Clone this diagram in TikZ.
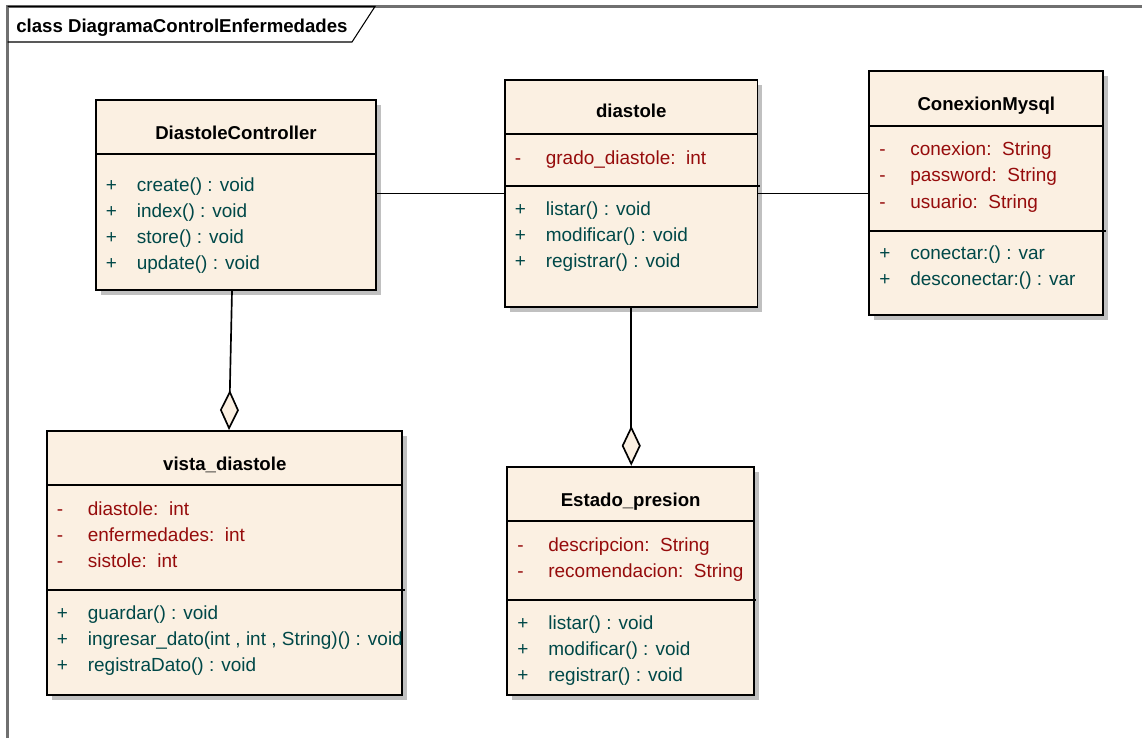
\documentclass[tikz,border=0pt]{standalone}
\usepackage{fontspec}
\setmainfont{Liberation Sans}
\usetikzlibrary{arrows.meta,shadows}
\definecolor{classfill}{RGB}{251,240,226}
\definecolor{attrred}{RGB}{150,12,12}
\definecolor{opteal}{RGB}{0,72,72}
\definecolor{shadowgray}{RGB}{192,192,192}
\definecolor{framegray}{RGB}{112,112,112}
\tikzstyle{classbox}=[draw=black,fill=classfill,line width=1.1pt,inner sep=0pt,
  drop shadow={shadow xshift=0.1cm,shadow yshift=-0.1cm,fill=shadowgray,opacity=1}]
\tikzstyle{sepline}=[black,line width=1.1pt]
\tikzstyle{classname}=[anchor=base,inner sep=0pt,font=\fontsize{10.6}{12}\selectfont\bfseries]
\tikzstyle{attrs}=[anchor=base west,inner sep=0pt,text=attrred,font=\fontsize{10.8}{14.95}\selectfont]
\tikzstyle{ops}=[anchor=base west,inner sep=0pt,text=opteal,font=\fontsize{10.8}{14.95}\selectfont]
\tikzstyle{assoc}=[black,line width=0.95pt]
\tikzstyle{aggr}=[black,line width=0.95pt,-{Diamond[fill=classfill,length=0.8cm,width=0.38cm]}]
\newcommand{\members}[1]{\begin{tabular}[t]{@{}p{0.62cm}@{}l@{}}#1\end{tabular}}

\begin{document}
\begin{tikzpicture}[x=0.02cm, y=-0.02cm]
\useasboundingbox (0,0) rectangle (1142,738);
\draw[framegray, line width=1.2pt] (7.5,738) -- (7.5,6.5) -- (1142,6.5);
\draw[black, line width=0.6pt] (7.5,6.5) -- (375,6.5) -- (352,42) -- (7.5,42);
\node[anchor=base west, inner sep=0pt, font=\fontsize{10.6}{12}\selectfont\bfseries] (frametitle) at (16,32.7) {class DiagramaControlEnfermedades};

\node[classbox, minimum width=5.6cm, minimum height=3.8cm] (ctrl) at (236,195) {};
	\draw[sepline] (96,154.3) -- (376,154.3);
	\node[classname] (ctrlname) at (236,139) {DiastoleController};
	\node[ops] (ctrlops) at (105.5,191) {\members{+ & create() : void\\ + & index() : void\\ + & store() : void\\ + & update() : void}};

\node[classbox, minimum width=5.05cm, minimum height=4.534cm] (diast) at (631.25,193.35) {};
	\draw[sepline] (505,134.3) -- (757.5,134.3);
	\draw[sepline] (505,186.3) -- (760,186.3);
	\node[classname] (diastname) at (631.25,117.7) {diastole};
	\node[attrs] (diastattrs) at (514.5,164.3) {\members{- & grado\_diastole:\ \ int}};
	\node[ops] (diastops) at (514.5,215) {\members{+ & listar() : void\\ + & modificar() : void\\ + & registrar() : void}};

\node[classbox, minimum width=4.68cm, minimum height=4.88cm] (conex) at (986.3,193) {};
	\draw[sepline] (869.3,126) -- (1103.3,126);
	\draw[sepline] (869.3,230.7) -- (1105.7,230.7);
	\node[classname] (conexname) at (986.3,110) {ConexionMysql};
	\node[attrs] (conexattrs) at (879,155.7) {\members{- & conexion:\ \ String\\ - & password:\ \ String\\ - & usuario:\ \ String}};
	\node[ops] (conexops) at (879,259) {\members{+ & conectar:() : var\\ + & desconectar:() : var}};

\node[classbox, minimum width=7.1cm, minimum height=5.28cm] (vista) at (224.8,563) {};
	\draw[sepline] (47.3,485) -- (402.3,485);
	\draw[sepline] (47.3,590) -- (405,590);
	\node[classname] (vistaname) at (224.8,470) {vista\_diastole};
	\node[attrs] (vistaattrs) at (56.5,515) {\members{- & diastole:\ \ int\\ - & enfermedades:\ \ int\\ - & sistole:\ \ int}};
	\node[ops] (vistaops) at (56.5,619) {\members{+ & guardar() : void\\ + & ingresar\_dato(int , int , String)() : void\\ + & registraDato() : void}};

\node[classbox, minimum width=4.934cm, minimum height=4.566cm] (estado) at (630.65,580.85) {};
	\draw[sepline] (507.3,521) -- (754,521);
	\draw[sepline] (507.3,600) -- (756,600);
	\node[classname] (estadoname) at (630.65,506.7) {Estado\_presion};
	\node[attrs] (estadoattrs) at (517,551) {\members{- & descripcion:\ \ String\\ - & recomendacion:\ \ String}};
	\node[ops] (estadoops) at (517,629.3) {\members{+ & listar() : void\\ + & modificar() : void\\ + & registrar() : void}};

\draw[assoc] (ctrl.east |- diast.west) -- (diast.west);
\draw[assoc] (diast.east) -- (diast.east -| conex.west);
\draw[aggr] ([xshift=-0.08cm]ctrl.south) -- ([xshift=0.084cm]vista.north);
\draw[aggr] (diast.south) -- (diast.south |- estado.north);
\end{tikzpicture}
\end{document}
